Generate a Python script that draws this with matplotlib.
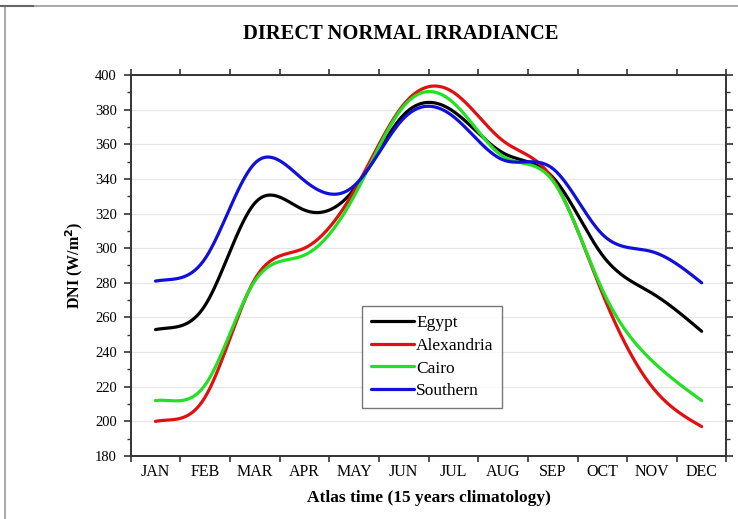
import numpy as np
import matplotlib
matplotlib.use("Agg")
import matplotlib.pyplot as plt
from matplotlib.lines import Line2D

plt.rcParams['font.family'] = ['Liberation Serif', 'DejaVu Serif']

months = ["JAN", "FEB", "MAR", "APR", "MAY", "JUN",
          "JUL", "AUG", "SEP", "OCT", "NOV", "DEC"]

egypt = [253, 267, 326, 322, 334, 377, 379, 355, 341, 296, 274, 252]
alexandria = [200, 214, 282, 300, 333, 383, 390, 362, 340, 274, 220, 197]
cairo = [212, 221, 281, 296, 330, 382, 384, 353, 339, 276, 235, 212]
southern = [281, 294, 349, 339, 336, 375, 376, 351, 346, 308, 298, 280]

series = [("Egypt", egypt, "#000000"),
          ("Alexandria", alexandria, "#e01010"),
          ("Cairo", cairo, "#22e022"),
          ("Southern", southern, "#1010d8")]


def cubic_spline(x, y, xs, start_slope=None):
    """Cubic spline through (x, y); clamped start if start_slope given,
    natural otherwise; natural at the end."""
    x = np.asarray(x, float)
    y = np.asarray(y, float)
    n = len(x)
    h = np.diff(x)
    A = np.zeros((n, n))
    b = np.zeros(n)
    if start_slope is None:
        A[0, 0] = 1.0
    else:
        A[0, 0] = 2 * h[0]
        A[0, 1] = h[0]
        b[0] = 3 * ((y[1] - y[0]) / h[0] - start_slope)
    A[-1, -1] = 1.0
    for i in range(1, n - 1):
        A[i, i - 1] = h[i - 1]
        A[i, i] = 2 * (h[i - 1] + h[i])
        A[i, i + 1] = h[i]
        b[i] = 3 * ((y[i + 1] - y[i]) / h[i] - (y[i] - y[i - 1]) / h[i - 1])
    c = np.linalg.solve(A, b)
    out = np.empty_like(xs)
    for k, xv in enumerate(xs):
        i = min(max(np.searchsorted(x, xv) - 1, 0), n - 2)
        dx = xv - x[i]
        bi = (y[i + 1] - y[i]) / h[i] - h[i] * (2 * c[i] + c[i + 1]) / 3
        di = (c[i + 1] - c[i]) / (3 * h[i])
        out[k] = y[i] + bi * dx + c[i] * dx ** 2 + di * dx ** 3
    return out


fig = plt.figure(figsize=(7.38, 5.19), dpi=100)
ax = fig.add_axes([0.177, 0.1214, 0.8074, 0.7341])

xm = np.arange(len(months)) + 0.5
xs = np.linspace(xm[0], xm[-1], 400)
for name, vals, col in series:
    ys = cubic_spline(xm, vals, xs, start_slope=0.4 * (vals[1] - vals[0]))
    ax.plot(xs, ys, color=col, lw=2.3, label=name, solid_capstyle='round')

ax.set_xlim(0, 12)
ax.set_ylim(180, 400)
ax.set_xticks(np.arange(0, 13))
ax.set_xticklabels([])
ax.set_xticks(xm, minor=True)
ax.set_xticklabels(months, minor=True, fontsize=11.5)
ax.tick_params(axis='x', which='minor', length=0, pad=6)
ax.tick_params(axis='x', which='major', direction='out', length=4,
               width=1.2, top=True, color='#333333')
ax.set_yticks(np.arange(180, 401, 20))
ax.set_yticks(np.arange(190, 400, 20), minor=True)
ax.tick_params(axis='y', which='major', direction='out', length=5,
               width=1.2, right=True, labelsize=10.5, pad=5,
               color='#333333')
ax.tick_params(axis='y', which='minor', direction='out', length=3,
               width=1.0, right=True, color='#333333')
ax.yaxis.grid(True, color='#e6e6e6', lw=0.9)
ax.set_axisbelow(True)
for s in ax.spines.values():
    s.set_color('#333333')
    s.set_linewidth(1.4)

ax.set_title("DIRECT NORMAL IRRADIANCE", fontsize=14.8, fontweight='bold',
             pad=26, x=0.453)
ax.set_xlabel("Atlas time (15 years climatology)", fontsize=12.5,
              fontweight='bold', labelpad=7)
ax.set_ylabel("DNI (W/m$\\mathbf{^2}$)", fontsize=11.5, fontweight='bold',
              labelpad=7)

leg = ax.legend(loc='lower left', bbox_to_anchor=(0.389, 0.126),
                fontsize=12.5, frameon=True, fancybox=False,
                handlelength=2.5, handletextpad=0.1, labelspacing=0.38,
                borderpad=0.5, borderaxespad=0)
leg.get_frame().set_edgecolor('#555555')
leg.get_frame().set_linewidth(1.0)

# page border
fig.add_artist(Line2D([5 / 738, 1], [1 - 6 / 519, 1 - 6 / 519],
                      color='#999999', lw=1.2))
fig.add_artist(Line2D([5 / 738, 5 / 738], [0, 1 - 6 / 519],
                      color='#999999', lw=1.2))
fig.add_artist(Line2D([0, 33 / 738], [1 - 6 / 519, 1 - 6 / 519],
                      color='#666666', lw=1.5))

fig.savefig("out.png", dpi=100)
